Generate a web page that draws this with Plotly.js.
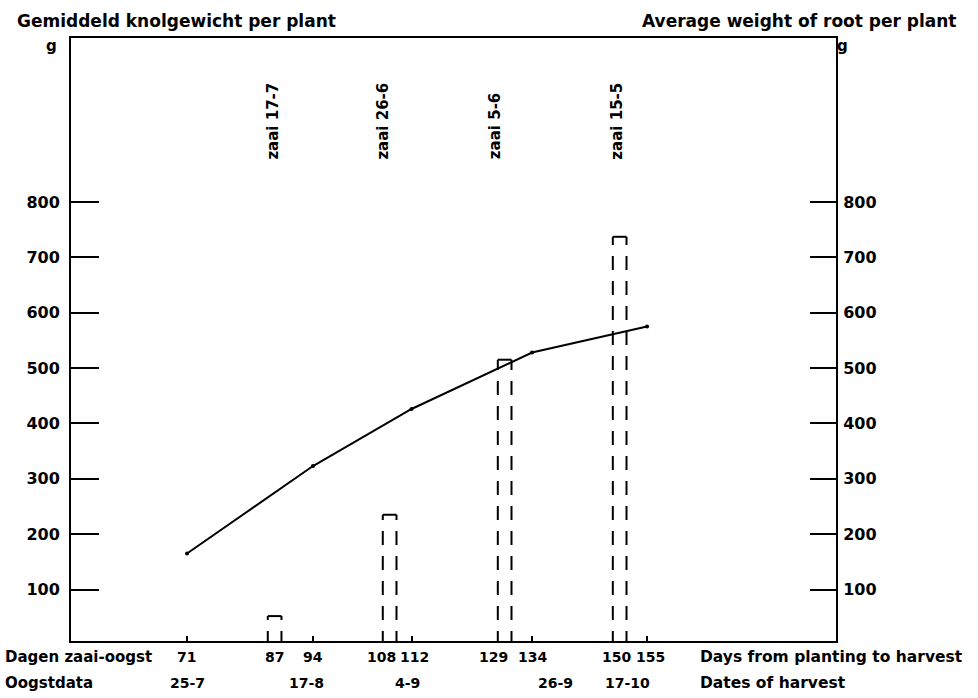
<!DOCTYPE html>
<html><head><meta charset="utf-8">
<script src="https://cdn.plot.ly/plotly-3.0.1.min.js"></script>
<style>html,body{margin:0;padding:0;background:#fff}</style>
</head><body><div id="chart" style="width:978px;height:698px"></div>
<script>
// ---- data ----
const lineDays = [71, 94, 112, 134, 155];
const lineWeights = [165, 323, 426, 528, 575];
const harvestDates = ['25-7', '17-8', '4-9', '26-9', '17-10'];
const barDays = [87, 108, 129, 150];
const barWeights = [52, 235, 515, 737];
const sowingLabels = ['zaai 17-7', 'zaai 26-6', 'zaai 5-6', 'zaai 15-5'];
const dayTicks = [71, 87, 94, 108, 112, 129, 134, 150, 155];
const yTicks = [100, 200, 300, 400, 500, 600, 700, 800];

// ---- styles ----
const FONT = '"DejaVu Sans", Lato, sans-serif';
const HW = 1.25; // half width of the dashed columns (days)
const dayLabelShift = [-1, 0, 0, -8, 3, -11, 0, -3, 3];
const dateLabelShift = [0, -6, -4, 23, -20];
const sowLabelShift = [-2, -7, -9, -3];

// dashed column sides and solid caps built from data
const sideX = [], sideY = [], capX = [], capY = [];
barDays.forEach((d, i) => {
  const v = barWeights[i];
  sideX.push(d - HW, d - HW, null, d + HW, d + HW, null);
  sideY.push(0, v, null, 0, v, null);
  capX.push(d - HW, d + HW, null);
  capY.push(v, v, null);
});

const traces = [
  {x: sideX, y: sideY, mode: 'lines', line: {color: '#000', width: 2, dash: '14px,11px'}, hoverinfo: 'skip', showlegend: false},
  {x: capX, y: capY, mode: 'lines', line: {color: '#000', width: 2}, hoverinfo: 'skip', showlegend: false},
  {x: lineDays, y: lineWeights, mode: 'lines+markers', line: {color: '#000', width: 2}, marker: {color: '#000', size: 4}, showlegend: false},
  {x: [null], y: [null], yaxis: 'y2', mode: 'lines', showlegend: false, hoverinfo: 'skip'}
];

const ann = [];
const fnt = (s) => ({family: FONT, size: s, color: '#000', weight: 700});
const txt = (o) => Object.assign({showarrow: false, font: fnt(15)}, o);

dayTicks.forEach((d, i) => ann.push(txt({text: String(d), xref: 'x', x: d, yref: 'paper', y: 0, yanchor: 'middle', yshift: -16, xshift: dayLabelShift[i], font: fnt(14)})));
lineDays.forEach((d, i) => ann.push(txt({text: harvestDates[i], xref: 'x', x: d, yref: 'paper', y: 0, yanchor: 'middle', yshift: -42, xshift: dateLabelShift[i], font: fnt(14)})));
barDays.forEach((d, i) => ann.push(txt({text: sowingLabels[i], xref: 'x', x: d, yref: 'y', y: 873, yanchor: 'bottom', textangle: -90, xshift: sowLabelShift[i], font: fnt(15)})));

ann.push(txt({text: 'Dagen zaai-oogst', xref: 'paper', x: -0.089, xanchor: 'left', yref: 'paper', y: 0, yanchor: 'middle', yshift: -16}));
ann.push(txt({text: 'Oogstdata', xref: 'paper', x: -0.089, xanchor: 'left', yref: 'paper', y: 0, yanchor: 'middle', yshift: -42}));
ann.push(txt({text: 'Days from planting to harvest', xref: 'paper', x: 0.8196, xanchor: 'left', yref: 'paper', y: 0, yanchor: 'middle', yshift: -16, font: fnt(15.5)}));
ann.push(txt({text: 'Dates of harvest', xref: 'paper', x: 0.8196, xanchor: 'left', yref: 'paper', y: 0, yanchor: 'middle', yshift: -42, font: fnt(15.5)}));
ann.push(txt({text: 'Gemiddeld knolgewicht per plant', xref: 'paper', x: -0.0732, xanchor: 'left', yref: 'paper', y: 1, yanchor: 'middle', yshift: 17, font: fnt(17)}));
ann.push(txt({text: 'Average weight of root per plant', xref: 'paper', x: 1.161, xanchor: 'right', yref: 'paper', y: 1, yanchor: 'middle', yshift: 17, font: fnt(17)}));
ann.push(txt({text: 'g', xref: 'paper', x: -0.025, xanchor: 'center', yref: 'paper', y: 1, yanchor: 'middle', yshift: -8}));
ann.push(txt({text: 'g', xref: 'paper', x: 1.009, xanchor: 'center', yref: 'paper', y: 1, yanchor: 'middle', yshift: -8}));

const layout = {
  width: 978, height: 698,
  margin: {l: 71, r: 142, t: 38, b: 57},
  paper_bgcolor: '#fff', plot_bgcolor: '#fff',
  font: fnt(15),
  showlegend: false,
  xaxis: {range: [49.82, 189.5], showgrid: false, zeroline: false, showline: true, linecolor: '#000', linewidth: 2, mirror: true,
          tickmode: 'array', tickvals: lineDays, ticks: 'inside', ticklen: 5, tickwidth: 2, tickcolor: '#000', showticklabels: false},
  yaxis: {range: [7, 1096], showgrid: false, zeroline: false, showline: true, linecolor: '#000', linewidth: 2,
          tickmode: 'array', tickvals: yTicks, ticks: 'inside', ticklen: 28, tickwidth: 2, tickcolor: '#000',
          ticklabelstandoff: 6, tickfont: fnt(16)},
  yaxis2: {range: [7, 1096], overlaying: 'y', side: 'right', showgrid: false, zeroline: false, showline: true, linecolor: '#000', linewidth: 2,
          tickmode: 'array', tickvals: yTicks, ticks: 'inside', ticklen: 26, tickwidth: 2, tickcolor: '#000',
          ticklabelstandoff: 2, tickfont: fnt(16)},
  annotations: ann
};

Plotly.newPlot('chart', traces, layout, {displayModeBar: false, staticPlot: true});
</script>
</body></html>
